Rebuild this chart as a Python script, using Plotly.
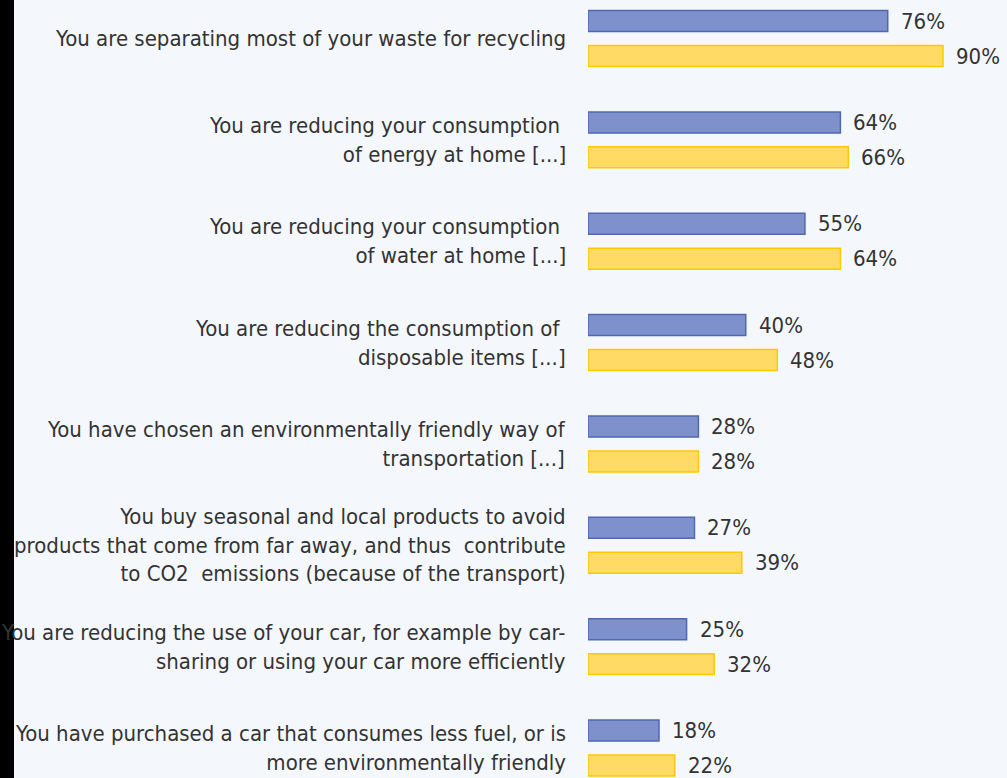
import plotly.graph_objects as go

categories = [
    "You are separating most of your waste for recycling",
    "You are reducing your consumption <br>of energy at home [...]",
    "You are reducing your consumption <br>of water at home [...]",
    "You are reducing the consumption of <br>disposable items [...]",
    "You have chosen an environmentally friendly way of<br>transportation [...]",
    "You buy seasonal and local products to avoid<br>products that come from far away, and thus  contribute<br>to CO2  emissions (because of the transport)",
    "You are reducing the use of your car, for example by car-<br>sharing or using your car more efficiently",
    "You have purchased a car that consumes less fuel, or is<br>more environmentally friendly",
]
series_a = [76, 64, 55, 40, 28, 27, 25, 18]   # blue
series_b = [90, 66, 64, 48, 28, 39, 32, 22]   # yellow

positions = list(range(len(categories)))
BARGAP = 0.31
half_slot = (1 - BARGAP) / 4

FONT = "DejaVu Sans Condensed, Liberation Sans, Arial, sans-serif"
TXT = "#333333"

fig = go.Figure()
fig.add_trace(go.Bar(
    y=positions, x=series_a, orientation="h", name="A",
    marker=dict(color="#7e91cd", line=dict(color="#4f68b0", width=1.5)),
    hoverinfo="skip",
))
fig.add_trace(go.Bar(
    y=positions, x=series_b, orientation="h", name="B",
    marker=dict(color="#ffdb66", line=dict(color="#ffc800", width=1.5)),
    hoverinfo="skip",
))

annotations = []
for p, a, b in zip(positions, series_a, series_b):
    annotations.append(dict(x=a, y=p - half_slot, xref="x", yref="y", text=f"{a}%",
                            showarrow=False, xanchor="left", yanchor="middle", xshift=11,
                            font=dict(family=FONT, size=22, color=TXT)))
    annotations.append(dict(x=b, y=p + half_slot, xref="x", yref="y", text=f"{b}%",
                            showarrow=False, xanchor="left", yanchor="middle", xshift=11,
                            font=dict(family=FONT, size=22, color=TXT)))
for p, c in zip(positions, categories):
    annotations.append(dict(x=0, y=p, xref="x", yref="y", text=c, showarrow=False,
                            xanchor="right", yanchor="middle", align="right", xshift=-20,
                            font=dict(family=FONT, size=22, color=TXT)))

L = 588
W, H = 1007, 778
plot_w = W - L
fig.update_layout(
    width=W, height=H,
    barmode="group", bargap=BARGAP, bargroupgap=0.4,
    margin=dict(l=L, r=0, t=0, b=0),
    paper_bgcolor="#f4f8fd", plot_bgcolor="rgba(0,0,0,0)",
    showlegend=False,
    xaxis=dict(range=[0, plot_w / 3.944], visible=False, fixedrange=True),
    yaxis=dict(range=[7.296, -0.380], visible=False, fixedrange=True),
    annotations=annotations,
    shapes=[dict(type="rect", xref="paper", yref="paper",
                 x0=-L / plot_w, x1=(14 - L) / plot_w, y0=0, y1=1,
                 fillcolor="#000000", line=dict(width=0), layer="above")],
)
fig.write_html("out.html", config={"displayModeBar": False},
               post_script="document.body.style.margin='0';document.body.style.background='#f4f8fd';")
